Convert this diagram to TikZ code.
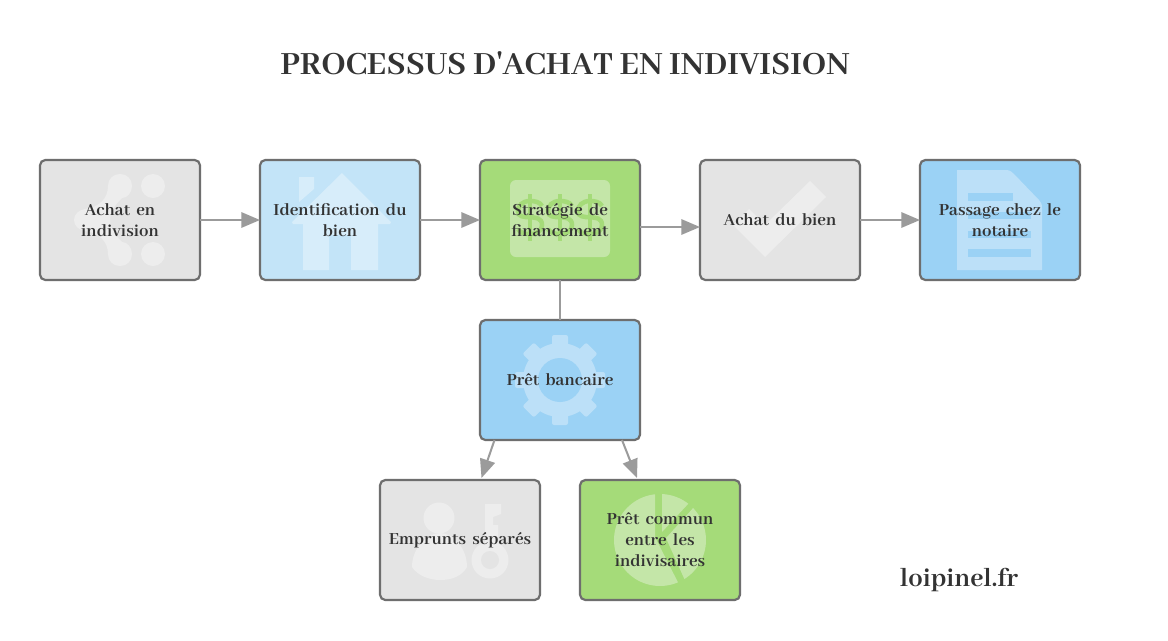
\documentclass[tikz,border=0pt]{standalone}
\usepackage{fontspec}
\setmainfont{Abhaya Libre}[BoldFont={Abhaya Libre Bold}]
\newfontfamily\plainfont{Abhaya Libre}[BoldFont={Abhaya Libre Bold},Ligatures=Common]
\usetikzlibrary{arrows.meta,calc}
\definecolor{txt}{HTML}{333333}
\definecolor{edge}{HTML}{6E6E6E}
\definecolor{conn}{HTML}{9B9B9B}
\definecolor{grey}{HTML}{E4E4E4}
\definecolor{greyic}{HTML}{EDEDED}
\definecolor{pale}{HTML}{C3E4F8}
\definecolor{paleic}{HTML}{D7EDFA}
\definecolor{blue}{HTML}{9BD2F5}
\definecolor{blueic}{HTML}{BCE0F8}
\definecolor{green}{HTML}{A5DB79}
\definecolor{greenic}{HTML}{C4E6A8}
\tikzset{
  stepbox/.style={draw=edge,line width=1.65pt,rounded corners=4pt,minimum width=120pt,minimum height=90pt,
    inner sep=0pt,outer sep=0pt,align=center,text width=112pt,text=txt,
    font=\fontsize{14}{15.75}\selectfont\bfseries},
  backing/.style={rounded corners=4pt},
  conn/.style={draw=conn,line width=1.5pt},
  arrow/.style={conn,-{Triangle[length=14pt,width=11.5pt]}},
  dollar/.style={draw=green,line width=3.4pt,line cap=butt},
  title/.style={font=\plainfont\fontsize{26.7}{32}\selectfont\bfseries,text=txt},
  logo/.style={font=\fontsize{21.4}{25}\selectfont\bfseries,text=txt}
}
\newcommand{\boxfill}[3]{\fill[backing,#3] (#1-80,#2-60) rectangle (#1+80,#2+60);}
\begin{document}
\begin{tikzpicture}[x=0.75pt,y=-0.75pt]
\useasboundingbox (0,0) rectangle (1168,640);
\fill[white] (0,0) rectangle (1168,640);
\node[title] (t) at (565,63) {PROCESSUS D'ACHAT EN INDIVISION};
\node[logo] (l) at (959,580) {loipinel.fr};

% Achat en indivision
\boxfill{120}{220}{grey}
\begin{scope}[shift={(120,220)}]
  \fill[greyic] (33,-34) circle[radius=12];
  \fill[greyic] (33,34) circle[radius=12];
  \fill[greyic] (0,-46) .. controls (7,-46) and (12,-41) .. (12,-34)
    .. controls (12,-27) and (7,-22) .. (2,-22)
    .. controls (-5,-15) and (-10,-8) .. (-10,0)
    .. controls (-10,8) and (-5,15) .. (2,22)
    .. controls (7,22) and (12,27) .. (12,34)
    .. controls (12,41) and (7,46) .. (0,46)
    .. controls (-7,46) and (-12,41) .. (-12,34)
    .. controls (-12,22) and (-20,13) .. (-35,11)
    .. controls (-41,10) and (-46,6) .. (-46,0)
    .. controls (-46,-6) and (-41,-10) .. (-35,-11)
    .. controls (-20,-13) and (-12,-22) .. (-12,-34)
    .. controls (-12,-41) and (-7,-46) .. (0,-46) -- cycle;
\end{scope}
\node[stepbox] (a) at (120,220) {Achat en\\indivision};

% Identification du bien
\boxfill{340}{220}{pale}
\begin{scope}[shift={(340,220)}]
  \fill[paleic] (-41,-43) -- (-26,-43) -- (-26,-31) -- (-41,-18) -- cycle;
  \fill[paleic] (2,-47) -- (51,2) -- (50,4) -- (38,4) -- (38,50) -- (11,50) -- (11,15) -- (-11,15) -- (-11,50) -- (-37,50) -- (-37,4) -- (-47,4) -- (-48,2) -- cycle;
\end{scope}
\node[stepbox] (b) at (340,220) {Identification du\\bien};

% Strategie de financement
\boxfill{560}{220}{green}
\begin{scope}[shift={(560,220)}]
  \fill[greenic,rounded corners=4.5pt] (-50,-40) rectangle (50,37);
  \foreach \dx in {-30,0,30}{
    \begin{scope}[shift={(\dx,-1)}]
      \draw[dollar] (0,-25) -- (0,22);
      \draw[dollar] (12,-13) .. controls (10,-17) and (5,-18) .. (0,-18)
        .. controls (-8,-18) and (-12,-13) .. (-12,-8)
        .. controls (-12,4) and (12,-8) .. (12,6)
        .. controls (12,11) and (8,15) .. (0,15)
        .. controls (-5,15) and (-10,14) .. (-12,10);
    \end{scope}}
\end{scope}
\node[stepbox] (c) at (560,220) {Stratégie de\\financement};

% Achat du bien
\boxfill{780}{220}{grey}
\begin{scope}[shift={(780,220)}]
  \fill[greyic] (30,-39) -- (46,-23) -- (-15,37) -- (-47,5) -- (-31,-11) -- (-15,5) -- cycle;
\end{scope}
\node[stepbox] (d) at (780,220) {Achat du bien};

% Passage chez le notaire
\boxfill{1000}{220}{blue}
\begin{scope}[shift={(1000,220)}]
  \fill[blueic] (-43,-50) -- (6,-50) .. controls (10,-50) and (12,-48) .. (14,-46) -- (39,-20) .. controls (41,-18) and (42,-16) .. (42,-12) -- (42,50) -- (-43,50) -- cycle;
  \fill[blue] (-32,-27) rectangle (13,-19);
  \fill[blue] (-32,-8) rectangle (31,-1);
  \fill[blue] (-32,11) rectangle (31,18);
  \fill[blue] (-32,29) rectangle (31,37);
\end{scope}
\node[stepbox] (e) at (1000,220) {Passage chez le\\notaire};

% Pret bancaire
\boxfill{560}{380}{blue}
\begin{scope}[shift={(560,380)}]
  \fill[blueic] (0,0) circle[radius=37];
  \foreach \g in {0,45,...,315}{
    \fill[blueic,rotate=\g,rounded corners=1.5pt] (-8,-45) rectangle (8,-28);
  }
  \fill[blue] (0,0) circle[radius=22];
\end{scope}
\node[stepbox] (f) at (560,380) {Prêt bancaire};

% Emprunts separes
\boxfill{460}{540}{grey}
\begin{scope}[shift={(460,540)}]
  \fill[greyic] (-21,-22) circle[radius=15.5];
  \fill[greyic] (-20,-7) .. controls (-33,-7) and (-48,8) .. (-48,27)
    .. controls (-42,36) and (-30,40) .. (-20,40)
    .. controls (-8,40) and (2,36) .. (7,27)
    .. controls (7,8) and (-7,-7) .. (-20,-7) -- cycle;
  \fill[greyic] (30,20) circle[radius=18.5];
  \fill[greyic] (25,-36) -- (41,-36) -- (41,-26) -- (33,-23) -- (33,-15) -- (38,-15) -- (38,8) -- (25,8) -- cycle;
  \fill[grey] (30,20) circle[radius=9];
\end{scope}
\node[stepbox] (g) at (460,540) {Emprunts séparés};

% Pret commun
\boxfill{660}{540}{green}
\begin{scope}[shift={(660,540)}]
  \fill[greenic] (-5,-3) -- plot[domain=264:67,samples=50] ({46*cos(\x)},{46*sin(\x)}) -- cycle;
  \fill[greenic] (2,-8) -- plot[domain=272.5:308,samples=12] ({46*cos(\x)},{46*sin(\x)}) -- cycle;
  \fill[greenic] (6,-2) -- plot[domain=316:418,samples=30] ({46*cos(\x)},{46*sin(\x)}) -- cycle;
\end{scope}
\node[stepbox] (h) at (660,540) {Prêt commun\\entre les\\indivisaires};

\draw[arrow] (a.east) -- (b.west);
\draw[arrow] (b.east) -- (c.west);
\draw[arrow] ($(c.east)+(0,7)$) -- ($(d.west)+(0,7)$);
\draw[arrow] (d.east) -- (e.west);
\draw[conn] (c.south) -- (f.north);
\draw[arrow] ($(f.south)+(-65.5,0)$) -- ($(g.north)+(21.5,-2)$);
\draw[arrow] ($(f.south)+(62,0)$) -- ($(h.north)+(-23,-2)$);
\end{tikzpicture}
\end{document}
